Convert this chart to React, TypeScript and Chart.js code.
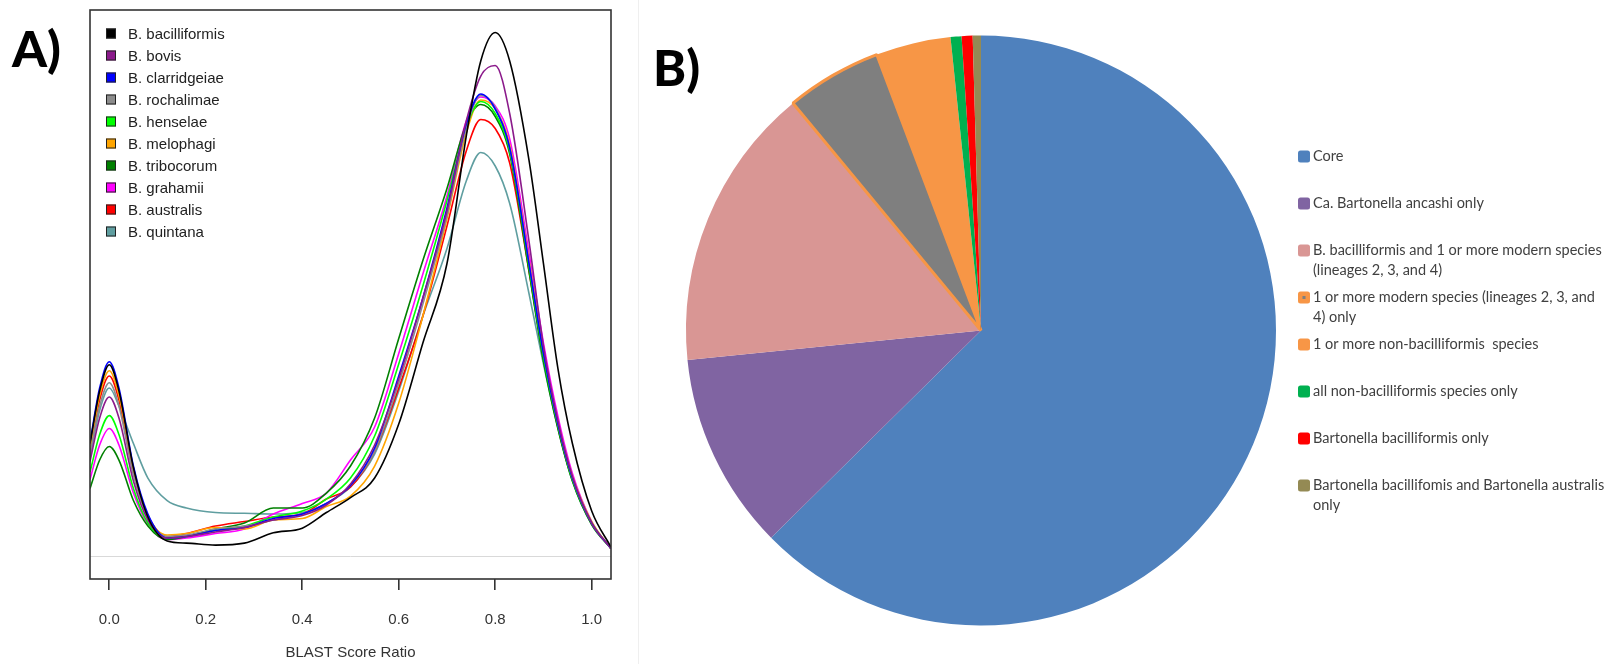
import React, { useEffect, useRef } from 'react';
import { Chart, registerables } from 'chart.js';

Chart.register(...registerables);

// ---------- Panel A: density of BLAST score ratios ----------
const X_VALUES = [-0.04, -0.02, 0, 0.02, 0.05, 0.08, 0.12, 0.16, 0.22, 0.28, 0.34, 0.4, 0.45, 0.5, 0.55, 0.6, 0.65, 0.7, 0.74, 0.77, 0.8, 0.83, 0.87, 0.9, 0.93, 0.96, 1.0, 1.04];
const X_TICKS = [0, 0.2, 0.4, 0.6, 0.8, 1.0];
const X_TITLE = 'BLAST Score Ratio';

const SPECIES = ['B. bacilliformis', 'B. bovis', 'B. clarridgeiae', 'B. rochalimae', 'B. henselae', 'B. melophagi', 'B. tribocorum', 'B. grahamii', 'B. australis', 'B. quintana'];
const SPECIES_COLORS = ['#000000', '#8B1A8B', '#0000FF', '#8C8C8C', '#00FF00', '#FFA500', '#008000', '#FF00FF', '#FF0000', '#5F9EA0'];

const D_BACILLIFORMIS = [0.75, 1.10, 1.275, 1.10, 0.59, 0.26, 0.10, 0.086, 0.073, 0.086, 0.155, 0.186, 0.29, 0.39, 0.52, 0.88, 1.42, 1.95, 2.8, 3.3, 3.49, 3.3, 2.64, 1.95, 1.25, 0.75, 0.3, 0.06];
const D_BOVIS = [0.63, 0.92, 1.06, 0.92, 0.50, 0.24, 0.12, 0.13, 0.16, 0.19, 0.24, 0.27, 0.34, 0.48, 0.74, 1.18, 1.72, 2.3, 2.9, 3.2, 3.27, 2.95, 2.1, 1.4, 0.9, 0.53, 0.22, 0.05];
const D_CLARRIDGEIAE = [0.76, 1.12, 1.295, 1.12, 0.60, 0.28, 0.12, 0.13, 0.17, 0.19, 0.25, 0.28, 0.35, 0.47, 0.72, 1.2, 1.72, 2.32, 2.88, 3.08, 2.98, 2.72, 1.95, 1.35, 0.88, 0.52, 0.22, 0.05];
const D_ROCHALIMAE = [0.68, 1.0, 1.155, 1.0, 0.54, 0.26, 0.13, 0.14, 0.18, 0.2, 0.24, 0.28, 0.35, 0.47, 0.7, 1.15, 1.68, 2.27, 2.85, 3.07, 2.99, 2.72, 1.96, 1.36, 0.88, 0.52, 0.22, 0.05];
const D_HENSELAE = [0.56, 0.81, 0.936, 0.81, 0.45, 0.22, 0.12, 0.13, 0.17, 0.2, 0.26, 0.3, 0.38, 0.52, 0.8, 1.28, 1.8, 2.37, 2.86, 3.03, 2.95, 2.7, 1.93, 1.33, 0.87, 0.51, 0.22, 0.05];
const D_MELOPHAGI = [0.72, 1.07, 1.235, 1.07, 0.58, 0.27, 0.14, 0.15, 0.19, 0.18, 0.24, 0.25, 0.33, 0.4, 0.6, 1.02, 1.6, 2.25, 2.82, 3.04, 2.98, 2.74, 1.97, 1.37, 0.89, 0.53, 0.23, 0.05];
const D_TRIBOCORUM = [0.45, 0.64, 0.73, 0.64, 0.37, 0.2, 0.11, 0.13, 0.18, 0.22, 0.32, 0.32, 0.42, 0.6, 0.92, 1.45, 1.97, 2.45, 2.88, 3.01, 2.93, 2.68, 1.9, 1.3, 0.85, 0.5, 0.21, 0.05];
const D_GRAHAMII = [0.51, 0.74, 0.85, 0.74, 0.42, 0.21, 0.11, 0.12, 0.15, 0.18, 0.28, 0.35, 0.42, 0.64, 0.86, 1.35, 1.88, 2.4, 2.9, 3.06, 3.0, 2.78, 2.02, 1.42, 0.93, 0.55, 0.23, 0.05];
const D_AUSTRALIS = [0.7, 1.04, 1.2, 1.04, 0.56, 0.27, 0.13, 0.15, 0.2, 0.23, 0.26, 0.28, 0.38, 0.46, 0.7, 1.12, 1.6, 2.2, 2.7, 2.91, 2.85, 2.62, 1.9, 1.32, 0.86, 0.51, 0.22, 0.05];
const D_QUINTANA = [0.66, 0.97, 1.12, 1.0, 0.75, 0.52, 0.37, 0.32, 0.29, 0.285, 0.28, 0.29, 0.35, 0.46, 0.68, 1.1, 1.6, 2.05, 2.5, 2.69, 2.6, 2.35, 1.75, 1.28, 0.85, 0.5, 0.21, 0.05];

const SERIES = [D_BACILLIFORMIS, D_BOVIS, D_CLARRIDGEIAE, D_ROCHALIMAE, D_HENSELAE, D_MELOPHAGI, D_TRIBOCORUM, D_GRAHAMII, D_AUSTRALIS, D_QUINTANA];

// ---------- Panel B: pie ----------
const PIE_LABELS = [
  'Core',
  'Ca. Bartonella ancashi only',
  'B. bacilliformis and 1 or more modern species\n(lineages 2, 3, and 4)',
  '1 or more modern species (lineages 2, 3, and\n4) only',
  '1 or more non-bacilliformis  species',
  'all non-bacilliformis species only',
  'Bartonella bacilliformis only',
  'Bartonella bacillifomis and Bartonella australis\nonly',
];
const PIE_VALUES = [62.6, 10.8, 15.6, 5.25, 4.1, 0.6, 0.6, 0.45];
const PIE_COLORS = ['#4F81BD', '#8064A2', '#D99694', '#7F7F7F', '#F79646', '#00B050', '#FF0000', '#948A54'];
const PIE_BORDER_COLORS = ['#4F81BD', '#8064A2', '#D99694', '#F79646', '#F79646', '#00B050', '#FF0000', '#948A54'];
const PIE_BORDER_WIDTHS = [0, 0, 0, 3, 0, 0, 0, 0];

const SANS = '"Liberation Sans", Arial, sans-serif';

const boxPlugin = {
  id: 'boxPlugin',
  beforeDatasetsDraw(chart: any) {
    const { ctx, chartArea } = chart;
    const y0 = chart.scales.y.getPixelForValue(0);
    ctx.save();
    ctx.strokeStyle = '#d9d9d9';
    ctx.lineWidth = 1;
    ctx.beginPath();
    ctx.moveTo(chartArea.left, Math.round(y0) + 0.5);
    ctx.lineTo(chartArea.right, Math.round(y0) + 0.5);
    ctx.stroke();
    ctx.restore();
  },
  afterDatasetsDraw(chart: any) {
    const { ctx, chartArea } = chart;
    ctx.save();
    ctx.strokeStyle = '#333333';
    ctx.lineWidth = 1.6;
    ctx.strokeRect(chartArea.left, chartArea.top, chartArea.right - chartArea.left, chartArea.bottom - chartArea.top);
    ctx.restore();
  },
  afterDraw(chart: any) {
    const { ctx, chartArea } = chart;
    ctx.save();
    ctx.font = '15px ' + SANS;
    ctx.textBaseline = 'middle';
    ctx.textAlign = 'left';
    SPECIES.forEach((name, i) => {
      const y = chartArea.top + 23.5 + i * 22;
      const sx = chartArea.left + 16;
      ctx.fillStyle = SPECIES_COLORS[i];
      ctx.fillRect(sx, y - 5, 10, 10);
      ctx.strokeStyle = '#222';
      ctx.lineWidth = 1;
      ctx.strokeRect(sx + 0.5, y - 4.5, 9, 9);
      ctx.fillStyle = '#222';
      ctx.fillText(name, chartArea.left + 38, y + 1);
    });
    ctx.restore();
  },
};

const pieLegendPlugin = {
  id: 'pieLegendPlugin',
  afterDraw(chart: any) {
    const { ctx } = chart;
    const sx = 649;
    const tx = 664;
    ctx.save();
    ctx.font = '14.5px Lato, "Open Sans", sans-serif';
    ctx.textBaseline = 'middle';
    ctx.textAlign = 'left';
    PIE_LABELS.forEach((label, i) => {
      const y = 156.5 + i * 47;
      ctx.fillStyle = PIE_BORDER_COLORS[i];
      const r = 2.5;
      const w = 12;
      ctx.beginPath();
      ctx.moveTo(sx + r, y - 6);
      ctx.lineTo(sx + w - r, y - 6);
      ctx.quadraticCurveTo(sx + w, y - 6, sx + w, y - 6 + r);
      ctx.lineTo(sx + w, y + 6 - r);
      ctx.quadraticCurveTo(sx + w, y + 6, sx + w - r, y + 6);
      ctx.lineTo(sx + r, y + 6);
      ctx.quadraticCurveTo(sx, y + 6, sx, y + 6 - r);
      ctx.lineTo(sx, y - 6 + r);
      ctx.quadraticCurveTo(sx, y - 6, sx + r, y - 6);
      ctx.fill();
      if (PIE_BORDER_COLORS[i] !== PIE_COLORS[i]) {
        ctx.fillStyle = PIE_COLORS[i];
        ctx.fillRect(sx + 4.5, y - 1.5, 3, 3);
      }
      ctx.fillStyle = '#404040';
      label.split('\n').forEach((line, j) => {
        ctx.fillText(line, tx, y + j * 19.5);
      });
    });
    ctx.restore();
  },
};

export default function App() {
  const refA = useRef<HTMLCanvasElement>(null);
  const refB = useRef<HTMLCanvasElement>(null);

  useEffect(() => {
    const datasets = SERIES.map((s, i) => ({
      label: SPECIES[i],
      data: X_VALUES.map((x, k) => ({ x, y: s[k] })),
      borderColor: SPECIES_COLORS[i],
      backgroundColor: SPECIES_COLORS[i],
      borderWidth: 1.6,
      pointRadius: 0,
      fill: false,
      cubicInterpolationMode: 'monotone' as const,
    }));

    const chartA = new Chart(refA.current as HTMLCanvasElement, {
      type: 'line',
      data: { datasets },
      options: {
        responsive: false,
        animation: false,
        layout: { padding: { left: 90, right: 29, top: 10, bottom: 0 } },
        plugins: { legend: { display: false }, tooltip: { enabled: false } },
        scales: {
          x: {
            type: 'linear',
            min: -0.04,
            max: 1.04,
            afterBuildTicks: (scale: any) => {
              scale.ticks = X_TICKS.map((v) => ({ value: v }));
            },
            afterFit: (scale: any) => {
              scale.height = 85;
            },
            ticks: {
              autoSkip: false,
              maxRotation: 0,
              padding: 21,
              color: '#333',
              font: { size: 15, family: SANS },
              callback: (v: any) => Number(v).toFixed(1),
            },
            grid: {
              display: true,
              drawOnChartArea: false,
              drawTicks: true,
              tickLength: 11,
              color: '#333',
              lineWidth: 1.6,
            },
            border: { display: false },
            title: {
              display: true,
              text: X_TITLE,
              color: '#333',
              font: { size: 15, family: SANS },
              padding: { top: 2, bottom: 2 },
            },
          },
          y: { display: false, min: -0.153, max: 3.64 },
        },
      },
      plugins: [boxPlugin],
    });

    const chartB = new Chart(refB.current as HTMLCanvasElement, {
      type: 'pie',
      data: {
        labels: PIE_LABELS,
        datasets: [
          {
            data: PIE_VALUES,
            backgroundColor: PIE_COLORS,
            borderColor: PIE_BORDER_COLORS,
            borderWidth: PIE_BORDER_WIDTHS,
          },
        ],
      },
      options: {
        responsive: false,
        animation: false,
        layout: { padding: { left: 0, right: 293, top: 34, bottom: 37 } },
        plugins: { legend: { display: false }, tooltip: { enabled: false } },
      },
      plugins: [pieLegendPlugin],
    });

    return () => {
      chartA.destroy();
      chartB.destroy();
    };
  }, []);

  const panelLabel: React.CSSProperties = {
    position: 'absolute',
    fontFamily: 'Lato, sans-serif',
    fontWeight: 900,
    fontSize: 50,
    lineHeight: '50px',
    color: '#000',
  };

  return (
    <div style={{ position: 'fixed', left: 0, top: 0, width: 1606, height: 664, background: '#fff', overflow: 'hidden' }}>
      <canvas ref={refA} width={640} height={664} style={{ position: 'absolute', left: 0, top: 0 }} />
      <div style={{ position: 'absolute', left: 638, top: 0, width: 1, height: 664, background: '#efefef' }} />
      <canvas ref={refB} width={957} height={664} style={{ position: 'absolute', left: 649, top: 0 }} />
      <div style={{ ...panelLabel, left: 12, top: 23 }}>A)</div>
      <div style={{ ...panelLabel, left: 653, top: 42 }}>B)</div>
    </div>
  );
}
